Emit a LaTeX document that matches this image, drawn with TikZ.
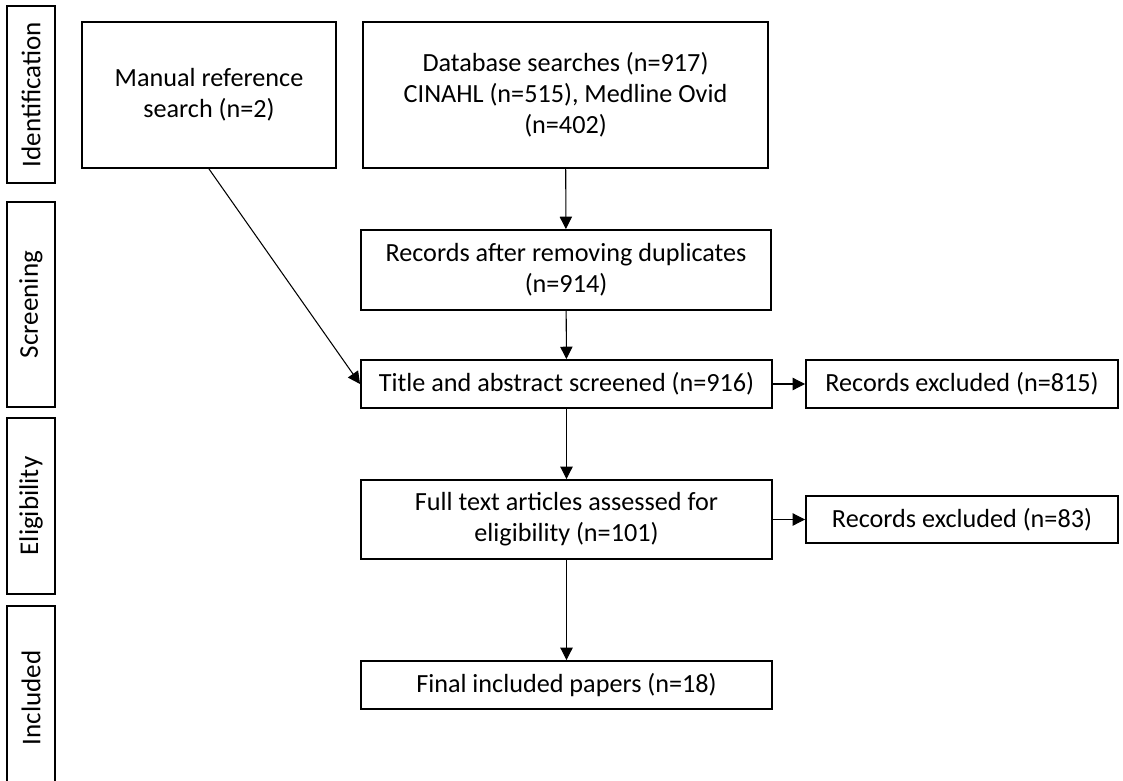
\documentclass[tikz,border=0pt]{standalone}
\usepackage{fontspec}
\setmainfont{Carlito}
\usetikzlibrary{arrows.meta}

\begin{document}
\begin{tikzpicture}[
    box/.style={draw,line width=1.1pt,align=center,inner sep=2pt,
      font=\fontsize{14.9}{17.6}\selectfont},
    phase/.style={draw,line width=1.1pt,rotate=90,minimum height=0.96cm,
      inner sep=0pt,font=\fontsize{15.4}{18}\selectfont},
    flow/.style={-{Triangle[length=7pt,width=7pt]},line width=0.6pt}
  ]
  \useasboundingbox (0,0) rectangle (22.46,-15.62);

  % phases on the left
  \node[phase,minimum width=3.54cm] (ident) at (0.62,-1.89) {Identification};
  \node[phase,minimum width=4.10cm] (screen) at (0.62,-6.09) {Screening};
  \node[phase,minimum width=3.52cm] (elig) at (0.62,-10.12) {Eligibility};
  \node[phase,minimum width=3.68cm] (incl) at (0.62,-13.96) {Included};

  % flow boxes
  \node[box,minimum width=5.08cm,minimum height=2.92cm] (manual) at (4.18,-1.9)
    {Manual reference\\search (n=2)};
  \node[box,minimum width=8.10cm,minimum height=2.92cm] (dbase) at (11.31,-1.9)
    {Database searches (n=917)\\CINAHL (n=515), Medline Ovid\\(n=402)};
  \node[box,minimum width=8.20cm,minimum height=1.60cm] (dupl) at (11.32,-5.4)
    {Records after removing duplicates\\(n=914)};
  \node[box,minimum width=8.22cm,minimum height=0.96cm] (title) at (11.33,-7.68)
    {Title and abstract screened (n=916)};
  \node[box,minimum width=6.24cm,minimum height=0.96cm] (excla) at (19.24,-7.68)
    {Records excluded (n=815)};
  \node[box,minimum width=8.22cm,minimum height=1.58cm] (full) at (11.33,-10.39)
    {Full text articles assessed for\\eligibility (n=101)};
  \node[box,minimum width=6.24cm,minimum height=0.94cm] (exclb) at (19.24,-10.39)
    {Records excluded (n=83)};
  \node[box,minimum width=8.22cm,minimum height=0.96cm] (final) at (11.33,-13.7)
    {Final included papers (n=18)};

  % connectors
  \draw[flow] (dbase) -- (dupl);
  \draw[flow] (dupl) -- (title);
  \draw[flow] (manual.south) -- (title.west);
  \draw[flow] (title) -- (excla);
  \draw[flow] (title) -- (full);
  \draw[flow] (full) -- (exclb);
  \draw[flow] (full) -- (final);
\end{tikzpicture}
\end{document}
